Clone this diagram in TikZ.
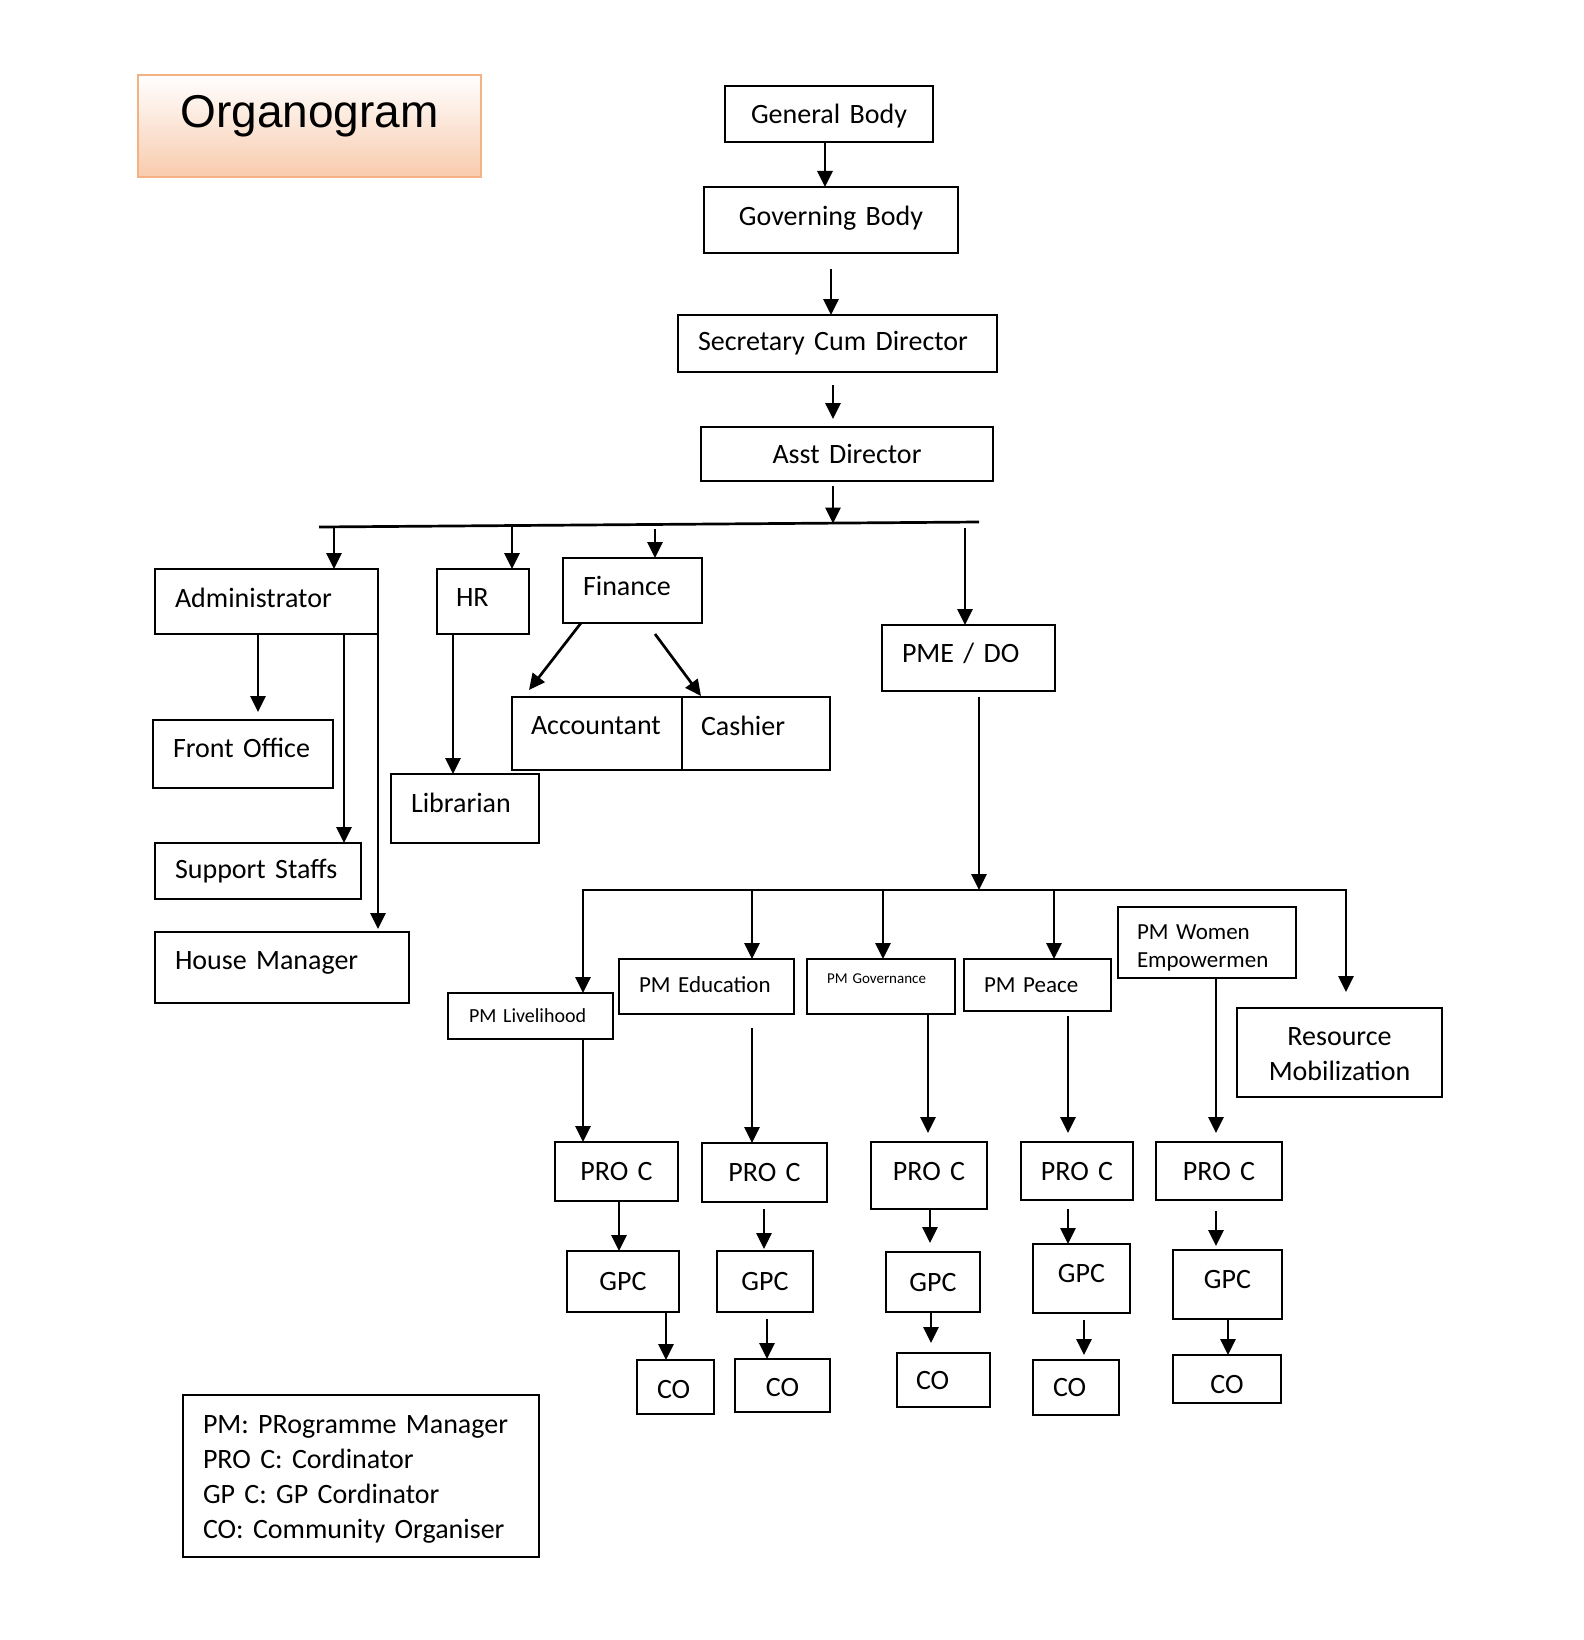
\documentclass[tikz,border=0pt]{standalone}
\usepackage{fontspec}
\setmainfont{Carlito}
\newfontfamily\arialf{Liberation Sans}
\usetikzlibrary{arrows.meta,calc}
\definecolor{peach}{HTML}{F8CBAD}
\definecolor{peachline}{HTML}{F4B183}
\hyphenpenalty=10000
\exhyphenpenalty=10000
\newcommand{\rz}[2]{\raisebox{#1}[\height][\depth]{#2}}
\newcommand{\twol}[2]{\begin{tabular}{@{}l@{}}#1\\#2\end{tabular}}
\newcommand{\bx}[8][]{%
 \pgfmathsetmacro{\bxcx}{(#3+#5)/2}%
 \pgfmathsetmacro{\bxcy}{(#4+#6)/2}%
 \pgfmathsetmacro{\bxw}{#5-#3}%
 \pgfmathsetmacro{\bxh}{#6-#4}%
 \pgfmathsetmacro{\bxtw}{#5-#3-2*#7}%
 \node[box, minimum width=\bxw pt, minimum height=\bxh pt, text width=\bxtw pt, inner xsep=#7pt, #1] (#2) at (\bxcx,\bxcy) {#8};%
}
\begin{document}
\begin{tikzpicture}[x=1pt,y=-1pt,
  box/.style={draw, line width=2.8pt, inner ysep=0pt, outer sep=0pt, align=left, font=\fontsize{28}{34}\selectfont},
  arr/.style={line width=2.7pt, -{Triangle[length=16pt,width=15pt]}},
  arrtwo/.style={line width=2.7pt, line join=miter, {Triangle[length=16pt,width=15pt]}-{Triangle[length=16pt,width=15pt]}},
  ln/.style={line width=2.7pt}]
\useasboundingbox (0,0) rectangle (1583,1640);
\fill[white] (0,0) rectangle (1583,1640);

% title
\bx[draw=peachline, line width=2.5pt, top color=white, bottom color=peach, font=\arialf\fontsize{46}{54}\selectfont, align=center]{title}{138}{75}{481}{177}{10}{\rz{10pt}{Organogram}}

% top chain
\bx[align=center]{gb}{725}{86}{933}{142}{10}{\rz{-2pt}{General Body}}
\bx[align=center]{gov}{704}{187}{958}{253}{10}{\rz{2pt}{Governing Body}}
\bx{sec}{678}{315}{997}{372}{20}{Secretary Cum Director}
\bx[align=center]{ast}{701}{427}{993}{481}{10}{Asst Director}

% second level
\bx{admin}{155}{569}{378}{634}{20}{\rz{4pt}{Administrator}}
\bx{hr}{437}{569}{529}{634}{19}{\rz{4pt}{HR}}
\bx{fin}{563}{558}{702}{623}{20}{\rz{5pt}{Finance}}
\bx{acc}{512}{697}{682}{770}{19}{\rz{8pt}{Accountant}}
\bx{cash}{682}{697}{830}{770}{19}{\rz{8pt}{Cashier}}
\bx{pme}{882}{625}{1055}{691}{20}{\rz{5pt}{PME / DO}}
\bx{fo}{153}{720}{333}{788}{20}{\rz{6pt}{Front Office}}
\bx{ss}{155}{843}{361}{899}{20}{Support Staffs}
\bx{hm}{155}{932}{409}{1003}{20}{\rz{5pt}{House Manager}}
\bx{lib}{391}{774}{539}{843}{20}{\rz{6pt}{Librarian}}

% programme managers
\bx[font=\fontsize{20}{24}\selectfont]{liv}{448}{993}{613}{1039}{21}{PM Livelihood}
\bx[font=\fontsize{23}{28}\selectfont]{edu}{619}{959}{794}{1014}{20}{\rz{2pt}{PM Education}}
\bx[font=\fontsize{15}{18}\selectfont]{gvn}{807}{959}{955}{1014}{20}{\rz{8pt}{PM Governance}}
\bx[font=\fontsize{23}{28}\selectfont]{pea}{964}{959}{1111}{1011}{20}{PM Peace}
\bx[font=\fontsize{23}{28}\selectfont]{wom}{1118}{907}{1296}{978}{19}{\rz{-5pt}{\twol{PM Women}{Empowermen}}}
\bx[align=center, font=\fontsize{28}{35}\selectfont]{rm}{1237}{1008}{1442}{1097}{10}{\rz{-3pt}{\begin{tabular}{@{}c@{}}Resource\\Mobilization\end{tabular}}}

% PRO C
\bx[align=center]{p1}{555}{1142}{678}{1201}{5}{PRO C}
\bx[align=center]{p2}{702}{1143}{827}{1202}{5}{PRO C}
\bx[align=center]{p3}{871}{1142}{987}{1209}{5}{\rz{4pt}{PRO C}}
\bx[align=center]{p4}{1021}{1142}{1133}{1200}{5}{PRO C}
\bx[align=center]{p5}{1156}{1142}{1282}{1200}{5}{PRO C}

% GPC
\bx[align=center]{g1}{567}{1251}{679}{1312}{5}{GPC}
\bx[align=center]{g2}{717}{1251}{813}{1312}{5}{GPC}
\bx[align=center]{g3}{886}{1252}{980}{1312}{5}{GPC}
\bx[align=center]{g4}{1033}{1244}{1130}{1313}{5}{\rz{5pt}{GPC}}
\bx[align=center]{g5}{1173}{1250}{1282}{1319}{5}{\rz{5pt}{GPC}}

% CO
\bx{c1}{637}{1360}{714}{1414}{20}{\rz{-2pt}{CO}}
\bx[align=center]{c2}{735}{1359}{830}{1412}{5}{\rz{-2pt}{CO}}
\bx{c3}{897}{1353}{990}{1407}{19}{CO}
\bx{c4}{1033}{1360}{1119}{1415}{20}{CO}
\bx[align=center]{c5}{1173}{1355}{1281}{1403}{5}{\rz{-5pt}{CO}}

% legend
\bx[font=\fontsize{28}{34.7}\selectfont]{leg}{183}{1395}{539}{1557}{20}{\rz{-3pt}{\begin{tabular}{@{}l@{}}PM: PRogramme Manager\\PRO C: Cordinator\\GP C: GP Cordinator\\CO: Community Organiser\end{tabular}}}

% ---------- connectors ----------
\draw[arr] (825,0 |- gb.south) -- (825,0 |- gov.north);
\draw[arr] ($(831,0 |- gov.south)+(0,16)$) -- (831,0 |- sec.north);
\draw[arr] ($(833,0 |- sec.south)+(0,13)$) -- ($(833,0 |- ast.north)+(0,-8)$);

\coordinate (busL) at (319,527);
\coordinate (busR) at (979,522);
\coordinate (bAst) at (833,523.5);
\draw[ln] (busL) -- (busR);
\draw[arr] ($(833,0 |- ast.south)+(0,5)$) -- (bAst);

\coordinate (dAdm) at (334,527);
\coordinate (dHR) at (512,525.5);
\coordinate (dFin) at (655,529);
\coordinate (dPme) at (965,528);
\draw[arr] (dAdm) -- (dAdm |- admin.north);
\draw[arr] (dHR) -- (dHR |- hr.north);
\draw[arr] (dFin) -- (dFin |- fin.north);
\draw[arr] (dPme) -- (dPme |- pme.north);

\draw[arr] (258,0 |- admin.south) -- ($(258,0 |- fo.north)+(0,-8)$);
\draw[arr] (344,0 |- admin.south) -- (344,0 |- ss.north);
\draw[arr] (admin.south east) -- ($(admin.south east |- hm.north)+(0,-3)$);
\draw[arr] (453,0 |- hr.south) -- (453,0 |- lib.north);

\coordinate (accTip) at (529,690);
\coordinate (cashTip) at (701,696);
\draw[arr] (581,0 |- fin.south) -- (accTip);
\draw[arr] ($(655,0 |- fin.south)+(0,11)$) -- (cashTip);

\coordinate (b2L) at (583,890);
\coordinate (b2R) at (1346,890);
\draw[arr] ($(979,0 |- pme.south)+(0,6)$) -- (979,0 |- b2L);
\draw[arrtwo] (b2L |- liv.north) -- (b2L) -- (b2R) -- ($(b2R |- rm.north)+(0,-16)$);
\draw[arr] (752,0 |- b2L) -- (752,0 |- edu.north);
\draw[arr] (883,0 |- b2L) -- (883,0 |- gvn.north);
\draw[arr] (1054,0 |- b2L) -- (1054,0 |- pea.north);

\draw[arr] (583,0 |- liv.south) -- (583,0 |- p1.north);
\draw[arr] ($(752,0 |- edu.south)+(0,14)$) -- (752,0 |- p2.north);
\draw[arr] (928,0 |- gvn.south) -- ($(928,0 |- p3.north)+(0,-9)$);
\draw[arr] ($(1068,0 |- pea.south)+(0,5)$) -- ($(1068,0 |- p4.north)+(0,-9)$);
\draw[arr] (1216,0 |- wom.south) -- ($(1216,0 |- p5.north)+(0,-9)$);

\draw[arr] (619,0 |- p1.south) -- (619,0 |- g1.north);
\draw[arr] ($(764,0 |- p2.south)+(0,7)$) -- ($(764,0 |- g2.north)+(0,-2)$);
\draw[arr] (930,0 |- p3.south) -- ($(930,0 |- g3.north)+(0,-9)$);
\draw[arr] ($(1068,0 |- p4.south)+(0,9)$) -- (1068,0 |- g4.north);
\draw[arr] ($(1216,0 |- p5.south)+(0,11)$) -- ($(1216,0 |- g5.north)+(0,-4)$);

\draw[arr] (666,0 |- g1.south) -- (666,0 |- c1.north);
\draw[arr] ($(767,0 |- g2.south)+(0,7)$) -- (767,0 |- c2.north);
\draw[arr] (931,0 |- g3.south) -- ($(931,0 |- c3.north)+(0,-10)$);
\draw[arr] ($(1084,0 |- g4.south)+(0,7)$) -- ($(1084,0 |- c4.north)+(0,-5)$);
\draw[arr] (1228,0 |- g5.south) -- (1228,0 |- c5.north);
\end{tikzpicture}
\end{document}
